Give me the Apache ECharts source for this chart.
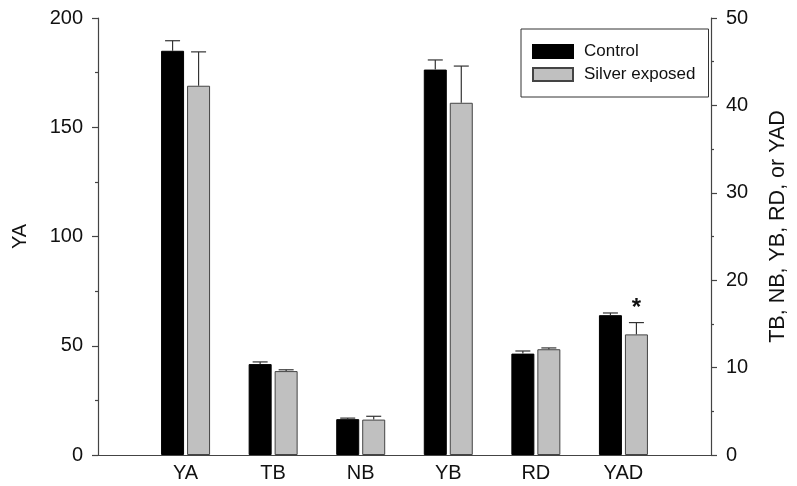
<!DOCTYPE html>
<html>
<head>
<meta charset="utf-8">
<script src="https://cdn.jsdelivr.net/npm/echarts@6/dist/echarts.min.js"></script>
<style>html,body{margin:0;padding:0;background:#fff;}#chart{width:797px;height:486px;}</style>
</head>
<body>
<div id="chart"></div>
<script>
// ---- data ----
const categories = ['YA', 'TB', 'NB', 'YB', 'RD', 'YAD'];
const leftAxisCategories = ['YA']; // plotted against left axis (YA), others against right axis
const controlMean = [185, 10.4, 4.1, 44.1, 11.6, 16.0];
const controlErr  = [4.6, 0.25, 0.12, 1.1, 0.3, 0.25];
const silverMean  = [169, 9.6, 4.05, 40.3, 12.1, 13.8];
const silverErr   = [15.5, 0.15, 0.38, 4.2, 0.15, 1.35];
const silverSignificant = [false, false, false, false, false, true];
const leftTicks = { min: 0, max: 200, interval: 50 };
const rightTicks = { min: 0, max: 50, interval: 10 };
const seriesNames = ['Control', 'Silver exposed'];
const leftAxisName = 'YA';
const rightAxisName = 'TB, NB, YB, RD, or YAD';

// ---- build ----
const FONT = 'Liberation Sans, Arial, sans-serif';
const axisData = [''].concat(categories, ['']);
const isLeft = c => leftAxisCategories.indexOf(c) >= 0;
function barData(arr, left) {
  return ['-'].concat(categories.map((c, i) => (isLeft(c) === left ? arr[i] : '-')), ['-']);
}
function errData(mean, err, sig, left) {
  const out = [];
  categories.forEach((c, i) => {
    if (isLeft(c) === left) out.push([i + 1, mean[i], err[i], sig && sig[i] ? 1 : 0]);
  });
  return out;
}
const BAR_W = 23, GAP = 3;
function makeErr(mean, err, sig, left, side) {
  return {
    type: 'custom', name: 'err', xAxisIndex: left ? 0 : 1, yAxisIndex: left ? 0 : 1, z: 5,
    data: errData(mean, err, sig, left),
    renderItem: function (params, api) {
      const x = api.value(0), m = api.value(1), e = api.value(2), s = api.value(3);
      const p0 = api.coord([x, m]);
      const p1 = api.coord([x, m + e]);
      const cx = p0[0] + side * (BAR_W + GAP) / 2;
      const st = { stroke: '#333', lineWidth: 1.2 };
      const children = [
        { type: 'line', shape: { x1: cx, y1: p0[1], x2: cx, y2: p1[1] }, style: st },
        { type: 'line', shape: { x1: cx - 7.5, y1: p1[1], x2: cx + 7.5, y2: p1[1] }, style: st }
      ];
      if (s) {
        children.push({ type: 'text', style: { x: cx, y: p1[1] - 2, text: '*', fill: '#111',
          font: 'bold 24px ' + FONT, align: 'center', verticalAlign: 'bottom' } });
      }
      return { type: 'group', children: children };
    }
  };
}
const ctrlStyle = { color: '#000', borderColor: '#000', borderWidth: 1 };
const silvStyle = { color: '#c0c0c0', borderColor: '#444', borderWidth: 1 };
function bar(name, arr, left, style) {
  return { type: 'bar', name: name, xAxisIndex: left ? 0 : 1, yAxisIndex: left ? 0 : 1,
    barWidth: BAR_W, barGap: (GAP / BAR_W * 100).toFixed(1) + '%', itemStyle: style,
    data: barData(arr, left), emphasis: { disabled: true } };
}
const lineCol = '#444';
function yAx(t, pos, name, gap, nameStyle) {
  return {
    type: 'value', position: pos, min: t.min, max: t.max, interval: t.interval,
    name: name, nameLocation: 'middle', nameGap: gap, nameRotate: 90,
    nameTextStyle: Object.assign({ fontFamily: FONT, fontSize: 20, color: '#111' }, nameStyle || {}),
    axisLine: { show: true, lineStyle: { color: lineCol, width: 1.2 } },
    axisTick: { show: true, length: 6, lineStyle: { color: lineCol, width: 1.2 } },
    minorTick: { show: true, splitNumber: 2, length: 3, lineStyle: { color: lineCol, width: 1.2 } },
    splitLine: { show: false },
    axisLabel: { fontFamily: FONT, fontSize: 20, color: '#111', margin: 15 }
  };
}
const option = {
  animation: false,
  backgroundColor: '#fff',
  grid: { left: 98, right: 74, top: 18, bottom: 31 },
  legend: {
    data: seriesNames, orient: 'vertical', left: 521, top: 29,
    itemWidth: 40, itemHeight: 13, itemGap: 6, icon: 'rect',
    padding: [14, 13, 14, 11], borderColor: '#333', borderWidth: 1,
    textStyle: { fontFamily: FONT, fontSize: 17, color: '#111', padding: [0, 0, 0, 6] }
  },
  xAxis: [
    { type: 'category', data: axisData, boundaryGap: false, position: 'bottom',
      axisLine: { lineStyle: { color: lineCol, width: 1.2 } }, axisTick: { show: false },
      axisLabel: { fontFamily: FONT, fontSize: 20, color: '#111', margin: 8, interval: 0 } },
    { type: 'category', data: axisData, boundaryGap: false, position: 'top',
      axisLine: { lineStyle: { color: lineCol, width: 1.2 } }, axisTick: { show: false },
      axisLabel: { show: false } }
  ],
  yAxis: [
    yAx(leftTicks, 'left', leftAxisName, 68),
    yAx(rightTicks, 'right', rightAxisName, 56, { fontSize: 21.5, padding: [0, 0, 0, 20] })
  ],
  series: [
    bar(seriesNames[0], controlMean, true, ctrlStyle),
    bar(seriesNames[1], silverMean, true, silvStyle),
    bar(seriesNames[0], controlMean, false, ctrlStyle),
    bar(seriesNames[1], silverMean, false, silvStyle),
    makeErr(controlMean, controlErr, null, true, -1),
    makeErr(silverMean, silverErr, silverSignificant, true, 1),
    makeErr(controlMean, controlErr, null, false, -1),
    makeErr(silverMean, silverErr, silverSignificant, false, 1)
  ]
};
echarts.init(document.getElementById('chart'), null, { renderer: 'canvas' }).setOption(option);
</script>
</body>
</html>
